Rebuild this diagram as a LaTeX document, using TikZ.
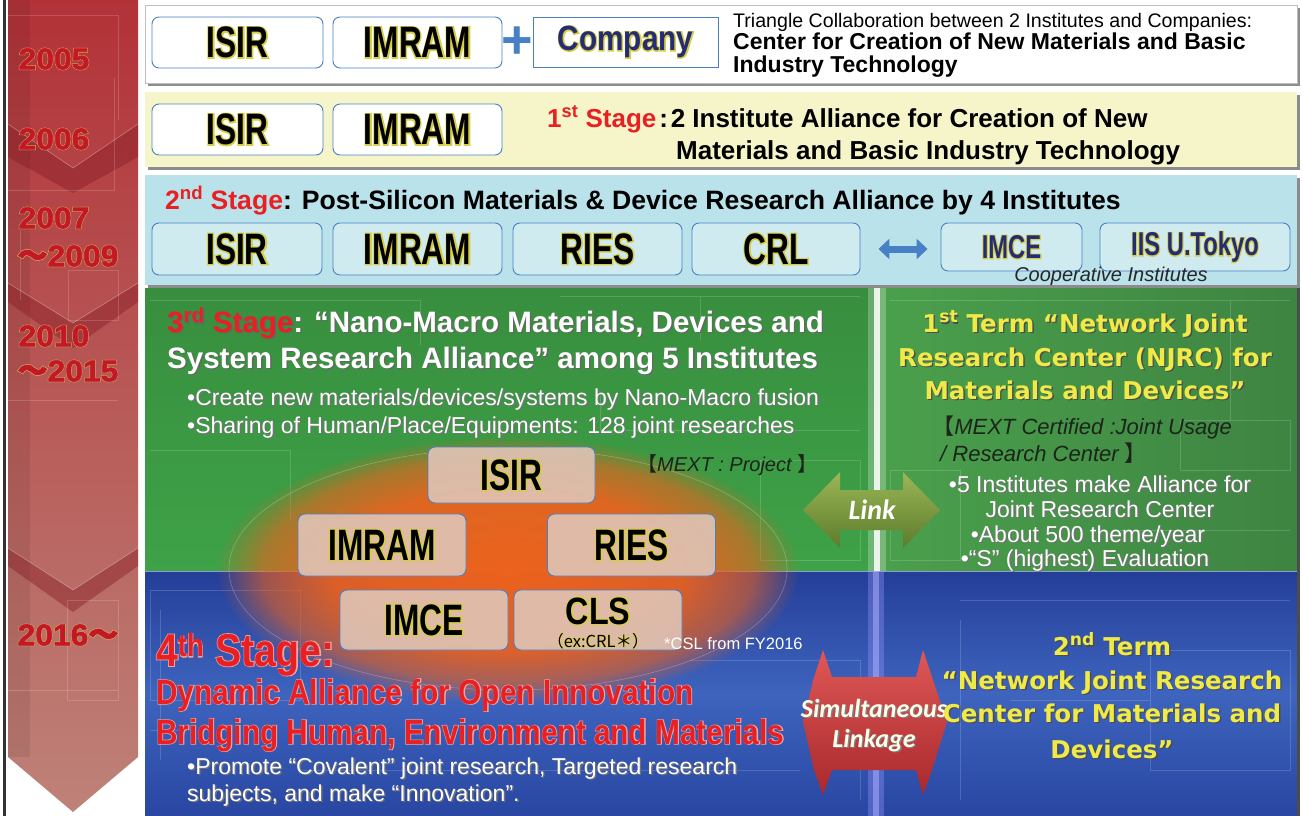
\documentclass[tikz,border=0pt]{standalone}
\usepackage{fontspec}
\setmainfont{Liberation Sans}
\newfontfamily\fcA[FakeStretch=0.72]{Liberation Sans}
\newfontfamily\fcB[FakeStretch=0.85]{Liberation Sans}
\newfontfamily\fyr[FakeStretch=1.06,FakeBold=1.8]{Liberation Sans}
\newfontfamily\fcAg[FakeStretch=0.72,FakeBold=6]{Liberation Sans}
\newfontfamily\fcBg[FakeStretch=0.85,FakeBold=6]{Liberation Sans}
\newfontfamily\fcBt[FakeStretch=0.85,FakeBold=3.5]{Liberation Sans}
\newfontfamily\fyrg[FakeStretch=1.06,FakeBold=5]{Liberation Sans}
\newfontfamily\fdv{DejaVu Sans}
\newfontfamily\carl{Carlito}
\newfontfamily\cjk{Noto Sans CJK JP}
\newfontfamily\cjkb[FakeBold=3]{Noto Sans CJK JP}
\newfontfamily\cjkg[FakeBold=7]{Noto Sans CJK JP}
\usetikzlibrary{arrows.meta,fadings}

\definecolor{arrTop}{RGB}{178,50,56}
\definecolor{arrBot}{RGB}{190,130,120}
\definecolor{chev}{RGB}{135,30,38}
\definecolor{yred}{RGB}{196,24,40}
\definecolor{yglow}{RGB}{208,184,84}
\definecolor{bxblue}{RGB}{72,128,198}
\definecolor{pnl2}{RGB}{246,245,202}
\definecolor{pnl3}{RGB}{186,226,234}
\definecolor{gTop}{RGB}{56,142,62}
\definecolor{gBot}{RGB}{62,162,72}
\definecolor{gR1}{RGB}{74,160,76}
\definecolor{gR2}{RGB}{62,132,66}
\definecolor{bTop}{RGB}{36,62,152}
\definecolor{bMid}{RGB}{62,100,190}
\definecolor{bBot}{RGB}{40,70,162}
\definecolor{orng}{RGB}{236,98,30}
\definecolor{stred}{RGB}{232,32,36}
\definecolor{ytxt}{RGB}{240,234,72}
\definecolor{darktxt}{RGB}{28,36,28}
\definecolor{iboxfill}{RGB}{222,196,182}
\definecolor{iglow}{RGB}{215,205,70}
\definecolor{navy}{RGB}{36,44,115}
\definecolor{lkTop}{RGB}{156,182,86}
\definecolor{lkBot}{RGB}{92,124,44}
\definecolor{smTop}{RGB}{222,88,86}
\definecolor{smBot}{RGB}{170,40,44}
\definecolor{pinkglow}{RGB}{236,165,160}

\newcommand\fsz[1]{\fontsize{#1}{#1}\selectfont}
\newbox\glA \newbox\glB
\def\rpcol{stred}
\let\tldf\cjkb
\newcommand\tld{{\tldf ～}}
\newcommand\redpart[1]{\textcolor{\rpcol}{#1}}
% glow: #1 glow font switch, #2 glow colour, #3 text colour, #4 text
\newcommand\glw[4]{{\setbox\glA=\hbox{{\let\tldf\cjkg\def\rpcol{#2}#1\color{#2}#4}}%
 \setbox\glB=\hbox{{\color{#3}#4}}\rlap{\copy\glA}\box\glB}}
% shadow: #1 shadow colour, #2 text colour, #3 text
\newcommand\shd[3]{{\setbox\glA=\hbox{{\def\rpcol{#1}\color{#1}#3}}\setbox\glB=\hbox{{\color{#2}#3}}%
 \rlap{\kern1.4pt\lower1.4pt\copy\glA}\box\glB}}
\newcommand\inst[1]{\glw{\fcAg}{iglow}{black}{#1}}
\newcommand\obr{{\cjk\kern-0.45em 【}}
\newcommand\cbr{{\cjk 】}}

\pgfdeclareradialshading{ellsh}{\pgfpointorigin}{color(0pt)=(white); color(15pt)=(white!92!black); color(21pt)=(white!60!black); color(25pt)=(black); color(50pt)=(black)}
\pgfdeclarefading{ellfade}{\pgfuseshading{ellsh}}

\tikzset{
  yearlbl/.style={inner sep=0pt, font=\fyr\bfseries\fsz{30}},
  ibox/.style={draw=bxblue, line width=0.9pt, rounded corners=7pt, inner sep=0pt, font=\fcA\bfseries\fsz{44}},
  wbox/.style={ibox, fill=white},
  pbox/.style={ibox, fill=iboxfill, fill opacity=0.9, text opacity=1},
  txt/.style={inner sep=0pt, anchor=base west},
  ctxt/.style={inner sep=0pt, anchor=base},
  pshadow/.style={fill=black!45},
  chevron/.style={fill=chev, opacity=0.45},
  yellowtxt/.style={ctxt, font=\fdv\bfseries\fsz{24.5}},
  circuit/.style={draw=white, opacity=0.16, line width=0.6pt},
}

\begin{document}
\begin{tikzpicture}[x=1pt,y=-1pt]
\useasboundingbox (0,0) rectangle (1303,816);
\fill[white] (0,0) rectangle (1303,816);

% ---------- timeline arrow ----------
\fill[black!80] (3,0) rectangle (6,816);
\shade[top color=arrTop, bottom color=arrBot] (8,0) -- (138,0) -- (138,757) -- (73,812) -- (8,757) -- cycle;
\fill[black, opacity=0.08] (8,0) rectangle (30,757);
\fill[chevron] (8,124) -- (73,168) -- (138,124) -- (138,157) -- (73,193) -- (8,157) -- cycle;
\fill[chevron] (8,283) -- (73,323) -- (138,283) -- (138,302) -- (73,348) -- (8,302) -- cycle;
\fill[chevron] (8,548) -- (73,590) -- (138,548) -- (138,566) -- (73,612) -- (8,566) -- cycle;
\draw[white, opacity=0.35, line width=0.6pt] (8,124) -- (73,168) -- (138,124);
\draw[white, opacity=0.35, line width=0.6pt] (8,283) -- (73,323) -- (138,283);
\draw[white, opacity=0.35, line width=0.6pt] (8,548) -- (73,590) -- (138,548);
\draw[circuit] (8,15) -- (118,15) -- (118,120) (114,78) -- (114,190) -- (8,190) (68,270) rectangle (118,320)
  (8,400) -- (118,400) (20,230) -- (20,300) (67,600) rectangle (118,700) (8,690) -- (118,690);

\node[yearlbl] (y2005) at (54,59) {\glw{\fyrg}{yglow}{yred}{2005}};
\node[yearlbl] (y2006) at (54,139) {\glw{\fyrg}{yglow}{yred}{2006}};
\node[yearlbl] (y2007) at (54,218) {\glw{\fyrg}{yglow}{yred}{2007}};
\node[yearlbl] (y2009) at (68,256) {\glw{\fyrg}{yglow}{yred}{\tld 2009}};
\node[yearlbl] (y2010) at (54,336) {\glw{\fyrg}{yglow}{yred}{2010}};
\node[yearlbl] (y2015) at (68,371) {\glw{\fyrg}{yglow}{yred}{\tld 2015}};
\node[yearlbl] (y2016) at (68,635) {\glw{\fyrg}{yglow}{yred}{2016\tld}};

% ---------- panels ----------
\fill[pshadow] (148,8) rectangle (1300,86);
\filldraw[fill=white, draw=black!25] (145,5) rectangle (1297,83);
\fill[pshadow] (148,95) rectangle (1300,170);
\fill[pnl2] (145,92) rectangle (1297,167);
\fill[pshadow] (148,178) rectangle (1300,288);
\fill[pnl3] (145,175) rectangle (1297,285);

\shade[top color=gTop, bottom color=gBot] (145,288) rectangle (877,571);
\shade[left color=gR1, right color=gR2] (877,288) rectangle (1297,571);
\shade[top color=bTop, bottom color=bBot, middle color=bMid] (145,571) rectangle (1297,816);
\fill[black!70] (1297,288) rectangle (1300,816);
\draw[white, opacity=0.5, line width=0.8pt] (145,571) -- (1297,571);

% faint circuit lines
\draw[circuit] (150,300) -- (420,300) -- (420,345) (560,296) -- (860,296) (700,296) -- (700,340)
  (150,450) -- (290,450) -- (290,520) (600,395) -- (600,430) -- (860,430) (760,460) rectangle (860,560)
  (890,300) -- (1290,300) (1230,300) -- (1230,420) -- (1290,420) (890,470) rectangle (960,560)
  (1120,530) -- (1290,530) (1180,420) rectangle (1290,470)
  (150,590) rectangle (300,700) (160,610) -- (160,760) (690,660) -- (860,660) -- (860,800)
  (960,600) -- (1290,600) (1150,650) rectangle (1290,770) (960,620) -- (960,800) (1010,700) -- (1150,700)
  (300,770) -- (800,770) (150,730) -- (180,730);

% glowing divider
\fill[white, opacity=0.25] (868,288) rectangle (886,571);
\fill[white, opacity=0.85] (874,288) rectangle (880,571);
\fill[white!60!blue, opacity=0.35] (868,571) rectangle (884,816);
\fill[white!70!blue, opacity=0.5] (873,571) rectangle (879,816);

% orange halo
\fill[orng, path fading=ellfade] (508,570) ellipse [x radius=292, y radius=134];
\draw[white, opacity=0.25, line width=0.6pt] (508,569) ellipse [x radius=279, y radius=121];

% ---------- 2005 ----------
\node[wbox, minimum width=171, minimum height=51] (isir1) at (237.5,42.5) {\inst{ISIR}};
\node[wbox, minimum width=169, minimum height=51] (imram1) at (417.5,42.5) {\inst{IMRAM}};
\node[font=\bfseries\fsz{54}, text=bxblue, inner sep=0pt] (plus) at (517,43) {+};
\node[wbox, sharp corners, minimum width=185, minimum height=50, font=\fcB\bfseries\fsz{35}] (comp) at (625.5,42) {\glw{\fcBg}{iglow}{navy}{Company}};
\node[txt, font=\fsz{19.6}] (p1a) at (733,28) {Triangle Collaboration between 2 Institutes and Companies:};
\node[txt, font=\bfseries\fsz{23}] (p1b) at (733,50) {Center for Creation of New Materials and Basic};
\node[txt, font=\bfseries\fsz{23}] (p1c) at (733,72) {Industry Technology};

% ---------- 2006 ----------
\node[wbox, minimum width=171, minimum height=51] (isir2) at (237.5,129.5) {\inst{ISIR}};
\node[wbox, minimum width=169, minimum height=51] (imram2) at (417.5,129.5) {\inst{IMRAM}};
\node[txt, font=\bfseries\fsz{26}] (p2a) at (547,127) {\redpart{1\textsuperscript{st} Stage}\hspace{0.12em}:\hspace{0.1em}2 Institute Alliance for Creation of New};
\node[txt, font=\bfseries\fsz{26}] (p2b) at (676,159) {Materials and Basic Industry Technology};

% ---------- 2007-2009 ----------
\node[txt, font=\bfseries\fsz{26.6}] (p3t) at (165,209) {\redpart{2\textsuperscript{nd} Stage}: Post-Silicon Materials \& Device Research Alliance by 4 Institutes};
\node[wbox, fill=pnl3!70!white, minimum width=170, minimum height=52] (isir3) at (237,249) {\inst{ISIR}};
\node[wbox, fill=pnl3!70!white, minimum width=169, minimum height=52] (imram3) at (417.5,249) {\inst{IMRAM}};
\node[wbox, fill=pnl3!70!white, minimum width=169, minimum height=52] (ries3) at (597.5,249) {\inst{RIES}};
\node[wbox, fill=pnl3!70!white, minimum width=168, minimum height=52] (crl3) at (776,249) {\inst{CRL}};
\node[wbox, fill=pnl3!70!white, minimum width=141, minimum height=48, font=\fcA\bfseries\fsz{33}] (imce3) at (1011.5,247) {\glw{\fcAg}{iglow}{navy}{IMCE}};
\node[wbox, fill=pnl3!70!white, minimum width=190, minimum height=48, font=\fcA\bfseries\fsz{33}] (iis3) at (1195,247) {\glw{\fcAg}{iglow}{navy}{IIS U.Tokyo}};
\draw[bxblue, line width=7pt, {Triangle[width=20pt,length=11pt]}-{Triangle[width=20pt,length=11pt]}, shorten <=18pt, shorten >=13pt] (crl3.east) -- (crl3.east -| imce3.west);
\node[ctxt, font=\itshape\fsz{20}, text=black!85] (coop) at (1111,281) {Cooperative Institutes};

% ---------- 2010-2015 ----------
\node[txt, font=\bfseries\fsz{29.5}] (s3a) at (167,332) {\shd{black!60}{white}{\redpart{3\textsuperscript{rd} Stage}: “Nano-Macro Materials, Devices and}};
\node[txt, font=\bfseries\fsz{29.5}] (s3b) at (167,368) {\shd{black!60}{white}{System Research Alliance” among 5 Institutes}};
\node[txt, font=\fsz{23}] (s3c) at (187,405) {\shd{black!55}{white}{•Create new materials/devices/systems by Nano-Macro fusion}};
\node[txt, font=\fsz{23}] (s3d) at (187,433) {\shd{black!55}{white}{•Sharing of Human/Place/Equipments: 128 joint researches}};
\node[txt, font=\itshape\fsz{20}, text=darktxt] (mext1) at (646,471) {\obr MEXT : Project \cbr};

\node[pbox, minimum width=167, minimum height=56] (s3isir) at (511.5,475) {\inst{ISIR}};
\node[pbox, minimum width=168, minimum height=62] (s3imram) at (382,545) {\inst{IMRAM}};
\node[pbox, minimum width=168, minimum height=62] (s3ries) at (631.5,545) {\inst{RIES}};
\node[pbox, minimum width=168, minimum height=60] (s3imce) at (424,620) {\inst{IMCE}};
\node[pbox, minimum width=168, minimum height=60] (s3cls) at (598,620) {};
\node[ctxt, font=\fcB\bfseries\fsz{38}] (clslbl) at (598,624) {\glw{\fcBg}{iglow}{black}{CLS}};
\node[ctxt, font=\cjk\fsz{16.5}] (exlbl) at (598,647) {\glw{\cjkg}{iglow}{black}{（ex:CRL＊）}};
\node[txt, font=\fsz{16.5}, text=white] (csl) at (664,649) {*CSL from FY2016};

% right: 1st term
\node[yellowtxt] (t1) at (1085,332) {\shd{black!70}{ytxt}{1\textsuperscript{st} Term “Network Joint}};
\node[yellowtxt] (t2) at (1085,366) {\shd{black!70}{ytxt}{Research Center (NJRC) for}};
\node[yellowtxt] (t3) at (1085,399) {\shd{black!70}{ytxt}{Materials and Devices”}};
\node[txt, font=\itshape\fsz{22}, text=darktxt] (m1) at (942,434) {\obr MEXT Certified :Joint Usage};
\node[txt, font=\itshape\fsz{22}, text=darktxt] (m2) at (940,461) {/ Research Center \cbr};
\node[ctxt, font=\fsz{23}] (r1) at (1100,492) {\shd{black!55}{white}{•5 Institutes make Alliance for}};
\node[ctxt, font=\fsz{23}] (r2) at (1100,517) {\shd{black!55}{white}{Joint Research Center}};
\node[ctxt, font=\fsz{23}] (r3) at (1088,542) {\shd{black!55}{white}{•About 500 theme/year}};
\node[ctxt, font=\fsz{23}] (r4) at (1085,566) {\shd{black!55}{white}{•“S” (highest) Evaluation}};

% Link arrow
\shade[top color=lkTop, bottom color=lkBot]
  (803,510) -- (840,472) -- (840,490) -- (903,490) -- (903,472) -- (940,510) -- (903,548) -- (903,530) -- (840,530) -- (840,548) -- cycle;
\node[font=\carl\bfseries\itshape\fsz{28}, text=white] (link) at (872,510) {Link};

% ---------- 2016~ ----------
\node[txt, font=\fcB\bfseries\fsz{46}] (s4) at (156,666) {\glw{\fcBt}{pinkglow}{stred}{4\textsuperscript{th} Stage:}};
\node[txt, font=\fcB\bfseries\fsz{35}] (s4a) at (156,704) {\glw{\fcBt}{pinkglow}{stred}{Dynamic Alliance for Open Innovation}};
\node[txt, font=\fcB\bfseries\fsz{35}] (s4b) at (156,744) {\glw{\fcBt}{pinkglow}{stred}{Bridging Human, Environment and Materials}};
\node[txt, font=\fsz{23}] (s4c) at (187,774) {\shd{black!55}{white}{•Promote “Covalent” joint research, Targeted research}};
\node[txt, font=\fsz{23}] (s4d) at (187,801) {\shd{black!55}{white}{subjects, and make “Innovation”.}};

% simultaneous linkage arrow
\shade[top color=smTop, bottom color=smBot]
  (823,650) -- (832,677) -- (916,677) -- (923,650) -- (932,677) -- (947,722) -- (932,770) -- (923,795) -- (916,770) -- (832,770) -- (823,795) -- (814,770) -- (803,722) -- (814,677) -- cycle;
\node[ctxt, font=\carl\bfseries\itshape\fsz{26}] (sim1) at (874,717) {\shd{black!50}{white!92!yellow}{Simultaneous}};
\node[ctxt, font=\carl\bfseries\itshape\fsz{26}] (sim2) at (874,747) {\shd{black!50}{white!92!yellow}{Linkage}};

% right: 2nd term
\node[yellowtxt] (u1) at (1112,655) {\shd{black!70}{ytxt}{2\textsuperscript{nd} Term}};
\node[yellowtxt] (u2) at (1112,689) {\shd{black!70}{ytxt}{“Network Joint Research}};
\node[yellowtxt] (u3) at (1112,722) {\shd{black!70}{ytxt}{Center for Materials and}};
\node[yellowtxt] (u4) at (1112,758) {\shd{black!70}{ytxt}{Devices”}};
\end{tikzpicture}
\end{document}
